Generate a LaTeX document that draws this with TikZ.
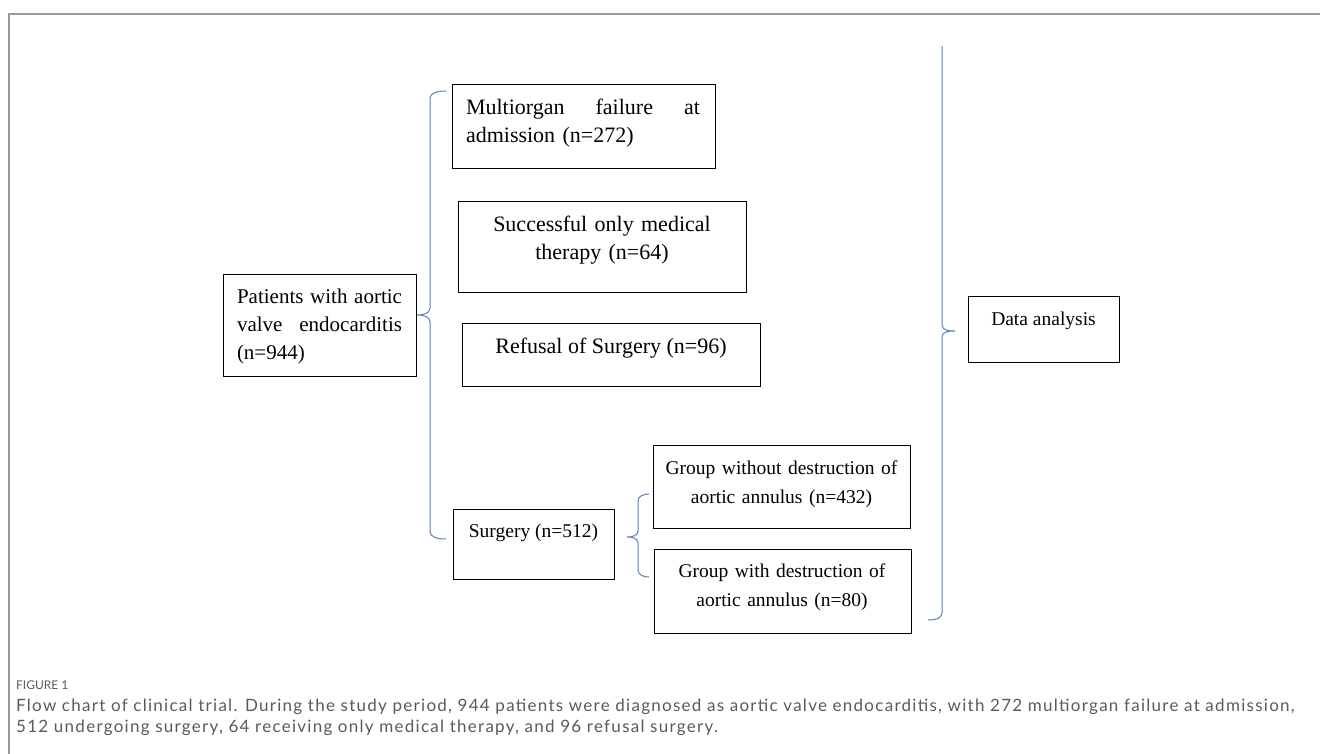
\documentclass[tikz,border=0pt]{standalone}
\usepackage{fontspec}
\setmainfont{Liberation Serif}
\newfontfamily\capfont[LetterSpace=7.5]{Lato}
\newfontfamily\figfont{Lato}
\definecolor{bracecol}{HTML}{5B7FBF}
\definecolor{framecol}{HTML}{9A9A9A}
\definecolor{capcol}{HTML}{5A5A5A}
\tikzset{
  box/.style={draw=black, line width=1.2pt, anchor=north west, inner sep=0pt},
  bigtext/.style={font=\fontsize{22}{28}\selectfont, inner sep=0pt, anchor=base},
  boxtext/.style={font=\fontsize{19.5}{29}\selectfont, inner sep=0pt, anchor=base},
  brace/.style={draw=bracecol, line width=1pt},
  captext/.style={font=\capfont\fontsize{17}{21}\selectfont, text=capcol, anchor=base west, inner sep=0pt},
}
\begin{document}
\begin{tikzpicture}[x=1pt, y=-1pt]
        \useasboundingbox (0,0) rectangle (1320,754);
        \draw[framecol, line width=1.3pt] (9,754) -- (9,14) -- (1320,14);

        % boxes
        \node[box, minimum width=193pt, minimum height=102pt] (pat) at (223,274) {};
        \node[box, minimum width=263pt, minimum height=84pt] (multi) at (452,84) {};
        \node[box, minimum width=288pt, minimum height=91pt] (medic) at (458,201) {};
        \node[box, minimum width=298pt, minimum height=63pt] (refus) at (462,323) {};
        \node[box, minimum width=161pt, minimum height=70pt] (surg) at (453,509) {};
        \node[box, minimum width=257pt, minimum height=83pt] (nodes) at (653,445) {};
        \node[box, minimum width=257pt, minimum height=84pt] (dest) at (654,549) {};
        \node[box, minimum width=151pt, minimum height=66pt] (data) at (968,296) {};

        % texts
        \node[bigtext, font=\fontsize{21}{28}\selectfont, text width=165pt, align=left] (pattext) at (319.5,303)
            {\makebox[165pt][l]{Patients\hfill with\hfill aortic}\\\makebox[165pt][l]{valve\hfill endocarditis}\\(n=944)};
        \node[bigtext, text width=234pt, align=left] (multitext) at (583,115)
            {\makebox[234pt][l]{Multiorgan\hfill failure\hfill at}\\admission (n=272)};
        \node[bigtext, text width=270pt, align=center] (medictext) at (602,232) {Successful only medical\\therapy (n=64)};
        \node[bigtext] (refustext) at (611,353) {Refusal of Surgery (n=96)};
        \node[boxtext] (surgtext) at (533.5,537) {Surgery (n=512)};
        \node[boxtext, text width=250pt, align=center] (nodestext) at (781.5,474) {Group without destruction of\\aortic annulus (n=432)};
        \node[boxtext, text width=250pt, align=center] (desttext) at (782,577) {Group with destruction of\\aortic annulus (n=80)};
        \node[boxtext] (datatext) at (1043.5,325) {Data analysis};

        % braces
        \coordinate (lbtop) at (446,91);
        \coordinate (lbtip) at (417,315);
        \coordinate (lbbot) at (446,539);
        \draw[brace] (lbtop) to[out=180,in=90] (430,99) -- (430,308) to[out=-90,in=0] (lbtip)
            to[out=0,in=90] (430,322) -- (430,531) to[out=-90,in=180] (lbbot);

        \coordinate (sbtop) at (649,494);
        \coordinate (sbtip) at (627,537);
        \coordinate (sbbot) at (649,577);
        \draw[brace] (sbtop) to[out=180,in=90] (638,501) -- (638,531) to[out=-90,in=0] (sbtip)
            to[out=0,in=90] (638,543) -- (638,570) to[out=-90,in=180] (sbbot);

        \coordinate (rbtop) at (942,46);
        \coordinate (rbtip) at (955,331);
        \coordinate (rbbot) at (928,620);
        \draw[brace] (rbtop) -- (942,325) to[out=-90,in=180] (rbtip)
            to[out=180,in=90] (942,337) -- (942,613) to[out=-90,in=0] (rbbot);

        % caption
        \node[captext, font=\figfont\fontsize{12}{14}\selectfont] (figlabel) at (16,689) {FIGURE 1};
        \node[captext] (capline1) at (16,711)
            {Flow chart of clinical trial. During the study period, 944 patients were diagnosed as aortic valve endocarditis, with 272 multiorgan failure at admission,};
        \node[captext] (capline2) at (16,732)
            {512 undergoing surgery, 64 receiving only medical therapy, and 96 refusal surgery.};
\end{tikzpicture}
\end{document}
